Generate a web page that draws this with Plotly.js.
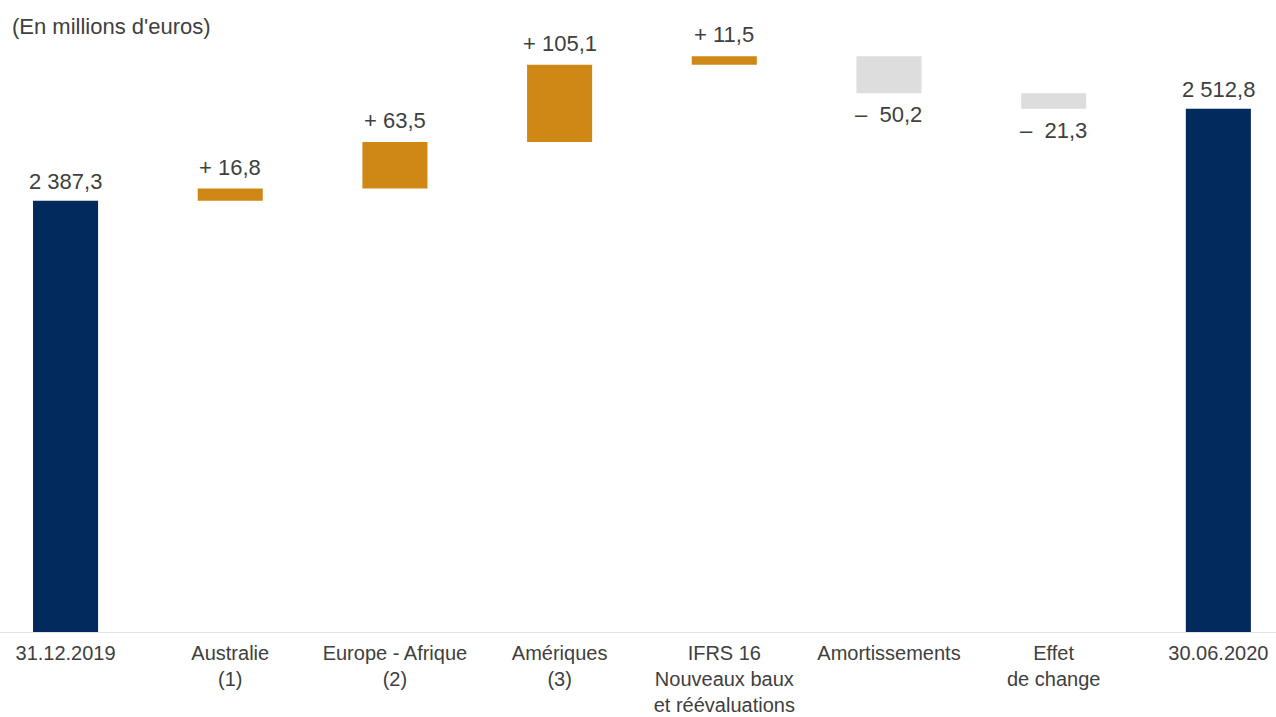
<!DOCTYPE html>
<html>
<head>
<meta charset="utf-8">
<script src="https://cdn.plot.ly/plotly-3.0.1.min.js"></script>
<style>html,body{margin:0;padding:0;background:#fff;}#chart{width:1276px;height:717px;}</style>
</head>
<body>
<div id="chart"></div>
<script>
var categories = ["31.12.2019", "Australie<br>(1)", "Europe - Afrique<br>(2)", "Amériques<br>(3)", "IFRS 16<br>Nouveaux baux<br>et réévaluations", "Amortissements", "Effet<br>de change", "30.06.2020"];
var measures = ["absolute", "relative", "relative", "relative", "relative", "relative", "relative", "absolute"];
var values = [2387.3, 16.8, 63.5, 105.1, 11.5, -50.2, -21.3, 2512.8];
var unitLabel = "(En millions d'euros)";

var NAVY = "#032a5c", GOLD = "#cf8816", GREY = "#dddddd", TXT = "#404040";
var FONT = "Liberation Sans, Arial, sans-serif";

function fmt(v) {
  var s = Math.abs(v).toFixed(1).split(".");
  var intPart = s[0].replace(/\B(?=(\d{3})+(?!\d))/g, " ");
  return intPart + "," + s[1];
}

var annotations = [];
var running = 0;
for (var i = 0; i < values.length; i++) {
  var v = values[i], m = measures[i];
  if (m === "absolute") {
    running = v;
    annotations.push({x: categories[i], y: v, text: fmt(v), yanchor: "bottom", yshift: 5});
  } else if (v >= 0) {
    running += v;
    annotations.push({x: categories[i], y: running, text: "+ " + fmt(v), yanchor: "bottom", yshift: 7});
  } else {
    running += v;
    annotations.push({x: categories[i], y: running, text: "\u2013\u00a0 " + fmt(v), yanchor: "top", yshift: -7});
  }
}
annotations.forEach(function (a) {
  a.xref = "x"; a.yref = "y"; a.showarrow = false; a.xanchor = "center";
  a.font = {family: FONT, size: 22, color: TXT};
});

var trace = {
  type: "waterfall",
  x: categories,
  y: values,
  measure: measures,
  increasing: {marker: {color: GOLD}},
  decreasing: {marker: {color: GREY}},
  totals: {marker: {color: NAVY}},
  connector: {visible: false},
  textinfo: "none",
  hoverinfo: "none"
};

var layout = {
  width: 1276, height: 717,
  margin: {l: 0, r: 0, t: 8, b: 85},
  paper_bgcolor: "#fff", plot_bgcolor: "#fff",
  waterfallgap: 0.605,
  showlegend: false,
  font: {family: FONT, size: 20, color: TXT},
  title: {text: unitLabel, xref: "container", yref: "container", x: 12 / 1276, xanchor: "left", y: 1 - 26 / 717, yanchor: "middle", font: {family: FONT, size: 22, color: TXT}},
  xaxis: {
    type: "category", range: [-0.398, 7.35], showgrid: false, zeroline: false,
    showline: true, linecolor: "#e3e3e3", linewidth: 1, ticks: "",
    ticklabelstandoff: 3,
    tickfont: {family: FONT, size: 20, color: TXT}, fixedrange: true
  },
  yaxis: {range: [1800, 2650], visible: false, showgrid: false, zeroline: false, fixedrange: true},
  annotations: annotations
};

Plotly.newPlot("chart", [trace], layout, {displayModeBar: false, staticPlot: true});
</script>
</body>
</html>
